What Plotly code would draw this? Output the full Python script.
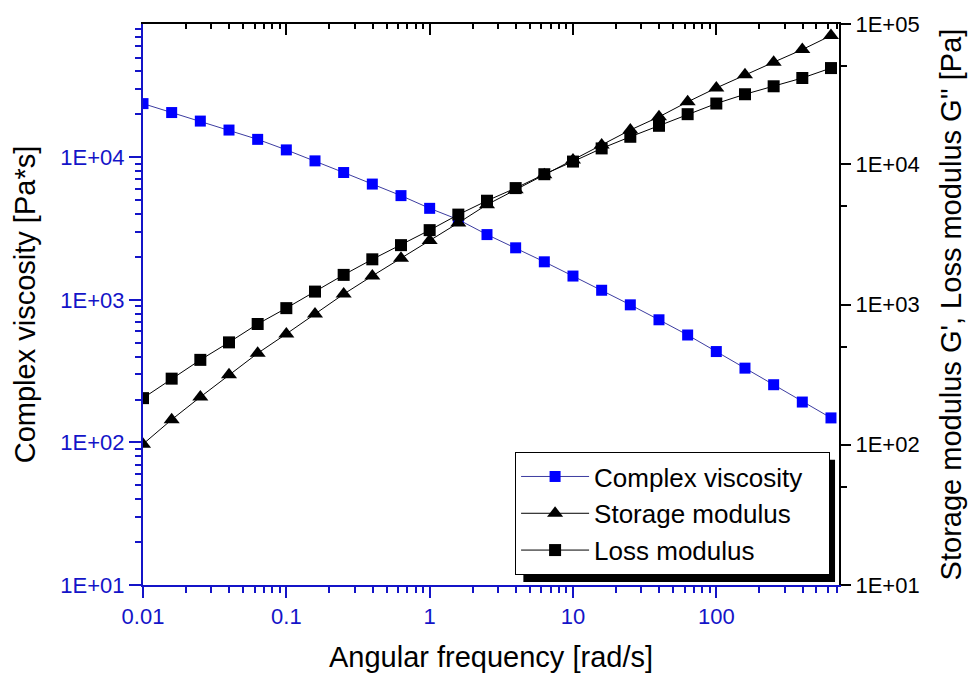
import plotly.graph_objects as go

# Angular frequency sweep: 5 points per decade, 0.01 to ~631 rad/s
omega = [0.01, 0.01585, 0.02512, 0.03981, 0.0631, 0.1, 0.1585, 0.2512, 0.3981, 0.631,
         1.0, 1.585, 2.512, 3.981, 6.31, 10.0, 15.85, 25.12, 39.81, 63.1,
         100.0, 158.5, 251.2, 398.1, 631.0]

complex_viscosity = [23800, 20600, 17950, 15530, 13360, 11270, 9440, 7820, 6490, 5385,
                     4385, 3655, 2870, 2318, 1849, 1469, 1168, 923, 725, 567,
                     434, 332, 254, 192, 148.6]

storage_modulus = [101, 151, 219, 316, 449, 617, 855, 1186, 1599, 2133,
                   2864, 3818, 5150, 6580, 8410, 10740, 13730, 17540, 21770, 27850,
                   34990, 43500, 53400, 65700, 82700]

loss_modulus = [215, 296, 403, 537, 726, 942, 1236, 1626, 2100, 2650,
                3390, 4375, 5495, 6760, 8490, 10450, 12970, 15700, 18800, 22750,
                27100, 31560, 35970, 41200, 48500]

x_tickvals = [0.01, 0.1, 1, 10, 100]
x_ticktext = ["0.01", "0.1", "1", "10", "100"]
left_tickvals = [10, 100, 1000, 10000]
left_ticktext = ["1E+01", "1E+02", "1E+03", "1E+04"]
right_tickvals = [10, 100, 1000, 10000, 100000]
right_ticktext = ["1E+01", "1E+02", "1E+03", "1E+04", "1E+05"]

BLUE_AXIS = "#1414C8"
FONT = "Arial, Liberation Sans, sans-serif"
PAD = "\u00a0" * 3  # extra room on the right of the legend box

minor_all_x = [k * 10.0 ** n for n in range(-2, 3) for k in range(2, 10)]
minor_all_y = [k * 10.0 ** n for n in range(1, 5) for k in range(2, 10)]
minor_five_y = [5 * 10.0 ** n for n in range(1, 5)]

x_range = [-2, 2.856]

fig = go.Figure()

fig.add_trace(go.Scatter(
    x=omega, y=complex_viscosity, name="Complex viscosity" + PAD,
    mode="lines+markers", xaxis="x", yaxis="y",
    line=dict(color="#3c3ca0", width=1),
    marker=dict(symbol="square", size=11, color="#0000FF", line=dict(width=0)),
))
fig.add_trace(go.Scatter(
    x=omega, y=storage_modulus, name="Storage modulus",
    mode="lines+markers", xaxis="x2", yaxis="y2",
    line=dict(color="black", width=1),
    marker=dict(symbol="triangle-up", size=14, color="black", line=dict(width=0)),
))
fig.add_trace(go.Scatter(
    x=omega, y=loss_modulus, name="Loss modulus",
    mode="lines+markers", xaxis="x2", yaxis="y2",
    line=dict(color="black", width=1),
    marker=dict(symbol="square", size=12, color="black", line=dict(width=0)),
))

# Legend drop shadow
fig.add_shape(type="rect", xref="paper", yref="paper",
              x0=0.5465, x1=0.9943, y0=0.0053, y1=0.2234,
              fillcolor="black", line=dict(width=0), layer="above")

fig.update_layout(
    width=974, height=680,
    margin=dict(l=143, r=132, t=22, b=94),
    paper_bgcolor="white", plot_bgcolor="white",
    font=dict(family=FONT, size=22, color="black"),
    showlegend=True,
    legend=dict(
        x=0.5346, y=0.0177, xanchor="left", yanchor="bottom",
        bgcolor="white", bordercolor="black", borderwidth=1,
        font=dict(family=FONT, size=26, color="black"),
        itemwidth=68,
    ),
    xaxis=dict(
        type="log", range=x_range, side="bottom",
        showline=True, linecolor=BLUE_AXIS, linewidth=2,
        ticks="outside", ticklen=11, tickwidth=2, tickcolor=BLUE_AXIS,
        tickvals=x_tickvals, ticktext=x_ticktext,
        tickfont=dict(family=FONT, size=22, color=BLUE_AXIS),
        minor=dict(tickvals=minor_all_x, ticks="outside", ticklen=6,
                   tickwidth=2, tickcolor=BLUE_AXIS, showgrid=False),
        showgrid=False, zeroline=False,
        title=dict(text="Angular frequency [rad/s]", standoff=18,
                   font=dict(family=FONT, size=29, color="black")),
    ),
    xaxis2=dict(
        type="log", range=x_range, side="top", overlaying="x", anchor="y2",
        showline=True, linecolor="black", linewidth=2,
        ticks="inside", ticklen=11, tickwidth=2, tickcolor="black",
        tickvals=x_tickvals, showticklabels=False,
        minor=dict(tickvals=minor_all_x, ticks="inside", ticklen=5,
                   tickwidth=2, tickcolor="black", showgrid=False),
        showgrid=False, zeroline=False,
    ),
    yaxis=dict(
        type="log", range=[1, 4.935], side="left",
        showline=True, linecolor=BLUE_AXIS, linewidth=2,
        ticks="outside", ticklen=12, tickwidth=2, tickcolor=BLUE_AXIS,
        tickvals=left_tickvals, ticktext=left_ticktext,
        tickfont=dict(family=FONT, size=22, color=BLUE_AXIS),
        minor=dict(tickvals=minor_all_y, ticks="outside", ticklen=6,
                   tickwidth=2, tickcolor=BLUE_AXIS, showgrid=False),
        showgrid=False, zeroline=False,
        title=dict(text="Complex viscosity [Pa*s]", standoff=16,
                   font=dict(family=FONT, size=29, color="black")),
    ),
    yaxis2=dict(
        type="log", range=[1, 5], side="right", overlaying="y", anchor="x2",
        showline=True, linecolor="black", linewidth=2,
        ticks="outside", ticklen=10, tickwidth=2, tickcolor="black",
        tickvals=right_tickvals, ticktext=right_ticktext,
        tickfont=dict(family=FONT, size=22, color="black"),
        minor=dict(tickvals=minor_five_y, ticks="outside", ticklen=6,
                   tickwidth=2, tickcolor="black", showgrid=False),
        showgrid=False, zeroline=False,
        title=dict(text="Storage modulus G', Loss modulus G'' [Pa]", standoff=22,
                   font=dict(family=FONT, size=29, color="black")),
    ),
)

fig.write_html("out.html")
